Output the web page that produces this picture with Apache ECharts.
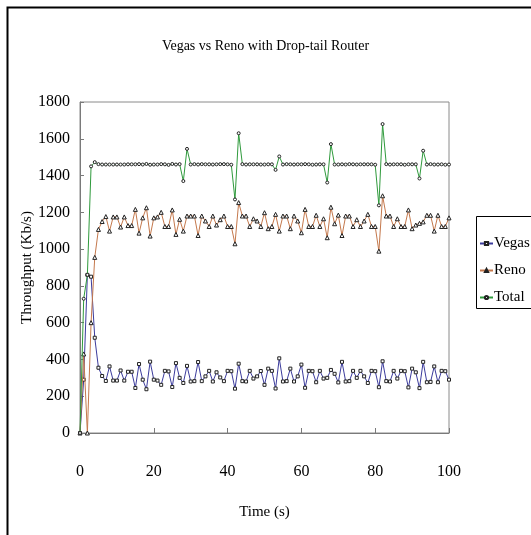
<!DOCTYPE html>
<html>
<head>
<meta charset="utf-8">
<script src="https://cdn.jsdelivr.net/npm/echarts@6/dist/echarts.min.js"></script>
<style>
html,body{margin:0;padding:0;background:#fff;}
#main{width:531px;height:535px;}
</style>
</head>
<body>
<div id="main"></div>
<script>
var titleText = 'Vegas vs Reno with Drop-tail Router';
var xName = 'Time (s)';
var yName = 'Throughput (Kb/s)';
var seriesNames = ['Vegas', 'Reno', 'Total'];

var times = [0,1,2,3,4,5,6,7,8,9,10,11,12,13,14,15,16,17,18,19,20,21,22,23,24,25,26,27,28,29,30,31,32,33,34,35,36,37,38,39,40,41,42,43,44,45,46,47,48,49,50,51,52,53,54,55,56,57,58,59,60,61,62,63,64,65,66,67,68,69,70,71,72,73,74,75,76,77,78,79,80,81,82,83,84,85,86,87,88,89,90,91,92,93,94,95,96,97,98,99,100];

var vegas = [0,290,860,850,518,355,310,283,362,285,285,340,285,333,333,245,375,290,238,388,290,285,262,338,335,250,380,300,272,365,280,282,386,282,308,338,280,330,302,282,338,336,241,377,282,280,338,296,308,337,262,350,338,242,406,280,282,350,280,308,372,246,338,336,276,338,296,300,343,322,275,387,280,282,338,300,338,308,272,338,336,249,390,282,280,338,296,338,336,248,350,330,244,387,276,278,362,276,338,336,290];

var reno = [0,430,0,600,955,1107,1150,1177,1098,1175,1175,1120,1175,1128,1128,1216,1087,1170,1225,1071,1170,1175,1200,1123,1123,1213,1080,1162,1098,1180,1180,1180,1074,1180,1153,1123,1180,1131,1160,1180,1123,1123,1029,1253,1180,1180,1123,1165,1153,1123,1198,1111,1123,1189,1098,1180,1180,1111,1180,1153,1089,1216,1123,1123,1184,1123,1165,1062,1228,1138,1185,1074,1180,1180,1123,1160,1123,1153,1189,1123,1123,989,1290,1180,1180,1123,1165,1123,1123,1213,1111,1131,1140,1148,1184,1184,1098,1184,1123,1123,1170];

var total = [0,730,860,1450,1473,1462,1460,1460,1460,1460,1460,1460,1460,1461,1461,1461,1462,1460,1463,1459,1460,1460,1462,1461,1458,1463,1460,1462,1370,1545,1460,1462,1460,1462,1461,1461,1460,1461,1462,1462,1461,1459,1270,1630,1462,1460,1461,1461,1461,1460,1460,1461,1461,1431,1504,1460,1462,1461,1460,1461,1461,1462,1461,1459,1460,1461,1461,1362,1571,1460,1460,1461,1460,1462,1461,1460,1461,1461,1461,1461,1459,1238,1680,1462,1460,1461,1461,1461,1459,1461,1461,1461,1384,1535,1460,1462,1460,1460,1461,1459,1460];

var yTicks = {min: 0, max: 1800, interval: 200};
var xTicks = {min: 0, max: 100, interval: 20};

function pairs(vals){ return times.map(function(t,i){ return [t, vals[i]]; }); }

var FONT = '"Liberation Serif", "DejaVu Serif", serif';
var chart = echarts.init(document.getElementById('main'), null, {renderer: 'canvas'});

var lineColors = ['#3b3b9c', '#c4784c', '#2f9a3c'];
var symbols = ['rect', 'triangle', 'circle'];
var sizes = [3, 4, 3];
var dataSets = [vegas, reno, total];

var series = seriesNames.map(function(n, i){
  return {
    name: n,
    type: 'line',
    data: pairs(dataSets[i]),
    symbol: symbols[i],
    symbolSize: sizes[i],
    showAllSymbol: true,
    lineStyle: {color: lineColors[i], width: 1},
    itemStyle: {color: '#ffffff', borderColor: '#222222', borderWidth: 1},
    emphasis: {disabled: true},
    animation: false,
    z: 3 + i
  };
});

chart.setOption({
  backgroundColor: '#ffffff',
  animation: false,
  title: {
    text: titleText,
    left: 'center',
    top: 34,
    textStyle: {fontFamily: FONT, fontSize: 14, fontWeight: 'normal', color: '#000'}
  },
  graphic: [
    {type: 'rect', shape: {x: 7.5, y: 7.5, width: 700, height: 700}, style: {fill: 'none', stroke: '#000', lineWidth: 2}, silent: true, z: 100},
    {type: 'rect', shape: {x: 476.5, y: 216.5, width: 200, height: 92}, style: {fill: '#fff', stroke: '#000', lineWidth: 1}, silent: true, z: 1}
  ],
  legend: {
    orient: 'vertical',
    left: 479,
    top: 236,
    itemGap: 12,
    itemWidth: 13,
    itemHeight: 4,
    padding: 0,
    data: seriesNames,
    textStyle: {fontFamily: FONT, fontSize: 15, color: '#000', padding: [0, 0, 0, -4]},
    z: 5
  },
  grid: {
    left: 80, right: 82, top: 102, bottom: 102,
    show: true, borderColor: '#8a8a8a', borderWidth: 1, backgroundColor: '#fff'
  },
  xAxis: {
    type: 'value',
    min: xTicks.min, max: xTicks.max, interval: xTicks.interval,
    name: xName,
    nameLocation: 'middle',
    nameGap: 72,
    nameTextStyle: {fontFamily: FONT, fontSize: 15, color: '#000'},
    axisLine: {show: true, lineStyle: {color: '#7a7a7a', width: 1}},
    axisTick: {show: true, inside: true, length: 5, lineStyle: {color: '#7a7a7a'}},
    axisLabel: {margin: 31, fontFamily: FONT, fontSize: 16, color: '#000'},
    splitLine: {show: false}
  },
  yAxis: {
    type: 'value',
    min: yTicks.min, max: yTicks.max, interval: yTicks.interval,
    name: yName,
    nameLocation: 'middle',
    nameGap: 45,
    nameMoveOverlap: false,
    nameRotate: 90,
    nameTextStyle: {fontFamily: FONT, fontSize: 15, color: '#000'},
    axisLine: {show: true, lineStyle: {color: '#7a7a7a', width: 1}},
    axisTick: {show: true, inside: true, length: 4, lineStyle: {color: '#7a7a7a'}},
    axisLabel: {margin: 10, fontFamily: FONT, fontSize: 16, color: '#000', formatter: function(v){ return String(v); }},
    splitLine: {show: false}
  },
  series: series
});
</script>
</body>
</html>
